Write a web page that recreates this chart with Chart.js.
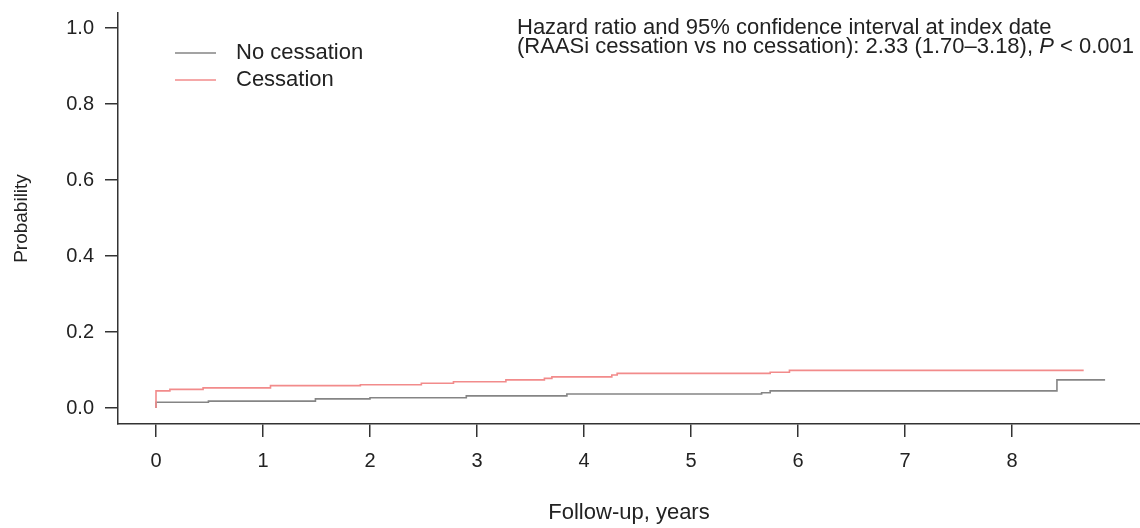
<!DOCTYPE html>
<html>
<head>
<meta charset="utf-8">
<script src="https://cdn.jsdelivr.net/npm/chart.js@4"></script>
<style>
  html, body { margin: 0; padding: 0; background: #fff; }
  #wrap { width: 1140px; height: 528px; }
</style>
</head>
<body>
<div id="wrap"><canvas id="kmChart" width="1140" height="528"></canvas></div>
<script>
// Cumulative probability, step points (time in years)
const noCessTime = [0, 0, 0.49, 1.49, 2.0, 2.90, 3.84, 5.66, 5.74, 8.42, 8.87];
const noCessProb = [0, 0.015, 0.018, 0.024, 0.027, 0.032, 0.037, 0.040, 0.045, 0.074, 0.074];

const cessTime = [0, 0, 0.13, 0.44, 1.07, 1.91, 2.48, 2.78, 3.27, 3.63, 3.70, 4.26, 4.31, 5.74, 5.92, 8.67];
const cessProb = [0, 0.045, 0.049, 0.053, 0.059, 0.061, 0.065, 0.069, 0.074, 0.078, 0.082, 0.087, 0.091, 0.094, 0.099, 0.099];

const xTicks = [0, 1, 2, 3, 4, 5, 6, 7, 8];
const yTicks = [0, 0.2, 0.4, 0.6, 0.8, 1.0];

const seriesLabels = ["No cessation", "Cessation"];
const noteLines = [
  "Hazard ratio and 95% confidence interval at index date",
  "(RAASi cessation vs no cessation): 2.33 (1.70\u20133.18), "
];

const GRAY = "#858585";
const RED = "#f28b8b";
const AXIS = "#333333";
const FONT = "'Liberation Sans', Arial, sans-serif";

const toPoints = (xs, ys) => xs.map((x, i) => ({ x, y: ys[i] }));

// legend + HR note drawn on top of the plot
const notePlugin = {
  id: 'notePlugin',
  afterDraw(chart) {
    const ctx = chart.ctx;
    ctx.save();
    ctx.font = "22px " + FONT;
    ctx.fillStyle = "#222";
    ctx.textBaseline = "middle";

    const legendCols = [GRAY, RED];
    const legendY = [53, 80];
    seriesLabels.forEach((lab, i) => {
      ctx.strokeStyle = legendCols[i];
      ctx.lineWidth = 1.5;
      ctx.beginPath();
      ctx.moveTo(175, legendY[i]);
      ctx.lineTo(216, legendY[i]);
      ctx.stroke();
      ctx.fillText(lab, 236, legendY[i]);
    });

    ctx.textAlign = "left";
    ctx.fillText(noteLines[0], 517, 28);
    ctx.fillText(noteLines[1], 517, 47);
    let w = ctx.measureText(noteLines[1]).width;
    ctx.font = "italic 22px " + FONT;
    ctx.fillText("P", 517 + w, 47);
    w += ctx.measureText("P").width;
    ctx.font = "22px " + FONT;
    ctx.fillText(" < 0.001", 517 + w, 47);
    ctx.restore();
  }
};

const kmChart = new Chart(document.getElementById('kmChart'), {
  type: 'line',
  data: {
    datasets: [
      { label: seriesLabels[1], data: toPoints(cessTime, cessProb), borderColor: RED, borderWidth: 1.6, stepped: 'before', pointRadius: 0, fill: false, order: 0 },
      { label: seriesLabels[0], data: toPoints(noCessTime, noCessProb), borderColor: GRAY, borderWidth: 1.6, stepped: 'before', pointRadius: 0, fill: false, order: 1 }
    ]
  },
  options: {
    responsive: false,
    animation: false,
    layout: { padding: { top: 13, right: 0, left: 0, bottom: 0 } },
    plugins: { legend: { display: false }, tooltip: { enabled: false } },
    scales: {
      x: {
        type: 'linear',
        min: (118 - 156) / 107,
        max: (1140 - 156) / 107,
        afterBuildTicks: s => { s.ticks = xTicks.map(v => ({ value: v })); },
        afterFit: s => { s.height = 104; s.paddingLeft = 0; s.paddingRight = 0; },
        grid: { drawOnChartArea: false, drawTicks: true, tickLength: 13, color: AXIS, lineWidth: 1.5 },
        border: { display: true, color: AXIS, width: 1.5 },
        ticks: { color: "#222", font: { family: FONT, size: 20 }, padding: 12, maxRotation: 0, callback: v => String(v) },
        title: { display: true, text: "Follow-up, years", color: "#222", font: { family: FONT, size: 22 }, padding: { top: 0, bottom: 2 } }
      },
      y: {
        type: 'linear',
        min: (408 - 424) / 380,
        max: (408 - 13) / 380,
        afterBuildTicks: s => { s.ticks = yTicks.map(v => ({ value: v })); },
        afterFit: s => { s.width = 118; s.paddingTop = 0; s.paddingBottom = 0; },
        grid: { drawOnChartArea: false, drawTicks: true, tickLength: 13, color: AXIS, lineWidth: 1.5 },
        border: { display: true, color: AXIS, width: 1.5 },
        ticks: { color: "#222", font: { family: FONT, size: 20 }, padding: 11, callback: v => v.toFixed(1) },
        title: { display: true, text: "Probability", color: "#222", font: { family: FONT, size: 19 }, padding: { top: 10, bottom: 0 } }
      }
    }
  },
  plugins: [notePlugin]
});
</script>
</body>
</html>
